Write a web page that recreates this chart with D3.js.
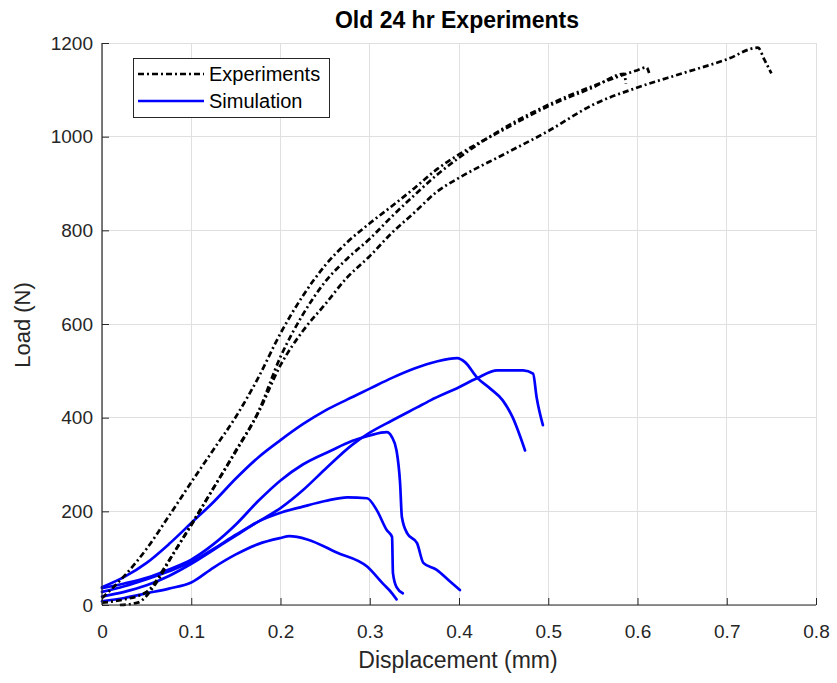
<!DOCTYPE html>
<html><head><meta charset="utf-8">
<script src="https://cdn.jsdelivr.net/npm/d3@7/dist/d3.min.js"></script>
<style>body{margin:0;background:#fff}svg{display:block}text{font-family:"Liberation Sans",Arial,sans-serif}</style>
</head><body><svg id="c" width="837" height="683"></svg>
<script>
const title = "Old 24 hr Experiments";
const xLabel = "Displacement (mm)";
const yLabel = "Load (N)";
const xTicks = [0,0.1,0.2,0.3,0.4,0.5,0.6,0.7,0.8];
const yTicks = [0,200,400,600,800,1000,1200];
const legendLabels = ["Experiments","Simulation"];

// Experiments (black dash-dot)
const expTop = [[0,15],[0.025,62],[0.05,120],[0.075,190],[0.1,262],[0.125,332],[0.15,402],[0.175,485],[0.2,580],[0.225,660],[0.25,725],[0.275,775],[0.3,815],[0.325,852],[0.35,890],[0.375,930],[0.4,962],[0.45,1015],[0.5,1065],[0.55,1105],[0.585,1134],[0.587,1113]];
const expMid = [[0,5],[0.025,12],[0.05,28],[0.075,95],[0.1,172],[0.125,250],[0.15,330],[0.175,412],[0.2,530],[0.225,620],[0.25,690],[0.275,740],[0.3,782],[0.325,830],[0.35,875],[0.375,918],[0.4,955],[0.45,1018],[0.5,1068],[0.55,1108],[0.6,1142],[0.61,1148],[0.613,1136]];
const expBot = [[0.02,0],[0.04,5],[0.06,45],[0.08,110],[0.1,170],[0.125,250],[0.15,328],[0.175,410],[0.2,512],[0.225,585],[0.25,642],[0.275,700],[0.3,745],[0.325,795],[0.35,838],[0.375,882],[0.4,912],[0.45,962],[0.5,1012],[0.55,1068],[0.6,1105],[0.65,1135],[0.7,1165],[0.735,1190],[0.742,1165],[0.75,1135]];
// Simulations (blue solid)
const simA = [[0,38],[0.025,60],[0.05,90],[0.075,130],[0.1,175],[0.125,220],[0.15,270],[0.175,315],[0.2,352],[0.225,386],[0.25,415],[0.275,439],[0.3,462],[0.325,485],[0.35,505],[0.375,520],[0.398,527],[0.407,518],[0.42,486],[0.435,462],[0.449,437],[0.46,401],[0.474,330]];
const simB = [[0,28],[0.025,40],[0.05,55],[0.075,72],[0.1,92],[0.125,120],[0.15,150],[0.175,178],[0.2,207],[0.225,245],[0.25,290],[0.281,343],[0.3,368],[0.325,394],[0.353,422],[0.368,437],[0.4,465],[0.42,484],[0.443,501],[0.472,501],[0.483,494],[0.487,443],[0.494,384]];
const simC = [[0,36],[0.025,46],[0.05,58],[0.075,76],[0.1,97],[0.125,130],[0.15,172],[0.175,222],[0.2,266],[0.225,300],[0.257,330],[0.28,350],[0.3,362],[0.319,369],[0.325,358],[0.33,330],[0.334,260],[0.336,188],[0.342,153],[0.353,132],[0.36,90],[0.375,75],[0.39,50],[0.401,32]];
const simD = [[0,18],[0.025,28],[0.05,42],[0.075,62],[0.1,88],[0.125,118],[0.15,148],[0.175,178],[0.2,197],[0.225,210],[0.25,222],[0.275,230],[0.297,228],[0.308,202],[0.319,160],[0.325,145],[0.326,68],[0.33,38],[0.337,25]];
const simE = [[0,8],[0.025,15],[0.05,25],[0.075,35],[0.1,48],[0.125,80],[0.15,108],[0.175,130],[0.2,143],[0.21,147],[0.23,140],[0.263,112],[0.297,82],[0.315,45],[0.325,25],[0.33,12]];

const experiments = [expTop, expMid, expBot];
const simulations = [simA, simB, simC, simD, simE];

const svg = d3.select("#c");
const L = 102, R = 816, T = 43, B = 605;
const x = d3.scaleLinear().domain([0,0.8]).range([L,R]);
const y = d3.scaleLinear().domain([0,1200]).range([B,T]);
const axisCol = "#262626";
const font = "'Liberation Sans',Arial,sans-serif";

// grid
const g = svg.append("g");
g.selectAll(".gx").data(xTicks).join("line")
  .attr("x1",d=>x(d)).attr("x2",d=>x(d)).attr("y1",T).attr("y2",B)
  .attr("stroke","#e0e0e0").attr("stroke-width",1).attr("shape-rendering","crispEdges");
g.selectAll(".gy").data(yTicks).join("line")
  .attr("y1",d=>y(d)).attr("y2",d=>y(d)).attr("x1",L).attr("x2",R)
  .attr("stroke","#e0e0e0").attr("stroke-width",1).attr("shape-rendering","crispEdges");

// data lines
const line = d3.line().x(d=>x(d[0])).y(d=>y(d[1])).curve(d3.curveMonotoneX);
svg.append("g").selectAll("path").data(simulations).join("path")
  .attr("d",line).attr("fill","none").attr("stroke","#0000ff").attr("stroke-width",2.7)
  .attr("stroke-linejoin","round").attr("stroke-linecap","round");
svg.append("g").selectAll("path").data(experiments).join("path")
  .attr("d",line).attr("fill","none").attr("stroke","#000").attr("stroke-width",2.7)
  .attr("stroke-dasharray","6,3,2,3");

// axes
const xAxis = d3.axisBottom(x).tickValues(xTicks).tickSize(-7).tickPadding(20).tickFormat(d3.format(""));
const yAxis = d3.axisLeft(y).tickValues(yTicks).tickSize(-7).tickPadding(9).tickFormat(d3.format(""));
const xa = svg.append("g").attr("transform",`translate(0,${B})`).call(xAxis);
const ya = svg.append("g").attr("transform",`translate(${L},0)`).call(yAxis);
[xa,ya].forEach(a=>{
  a.select(".domain").attr("stroke",axisCol).attr("stroke-width",1.2);
  a.selectAll(".tick line").attr("stroke",axisCol);
  a.selectAll(".tick text").attr("fill",axisCol).style("font-size","19px").style("font-family",font);
});
xa.select(".domain").attr("d",`M${L},0H${R}`);
ya.select(".domain").attr("d",`M0,${B}V${T}`);

// title & labels
svg.append("text").attr("x",457).attr("y",28).attr("text-anchor","middle")
  .style("font-size","23px").style("font-weight","bold").attr("fill","#000").text(title);
svg.append("text").attr("x",458).attr("y",668).attr("text-anchor","middle")
  .style("font-size","23px").attr("fill",axisCol).text(xLabel);
svg.append("text").attr("transform","translate(30,325) rotate(-90)").attr("text-anchor","middle")
  .style("font-size","22px").attr("fill",axisCol).text(yLabel);

// legend
const lg = svg.append("g");
lg.append("rect").attr("x",133.5).attr("y",58.5).attr("width",196).attr("height",59)
  .attr("fill","#fff").attr("stroke","#262626").attr("stroke-width",1);
const legStyles = [{c:"#000",dash:"6,3,2,3"},{c:"#0000ff",dash:null}];
legendLabels.forEach((t,i)=>{
  const yy = 74 + i*27;
  lg.append("line").attr("x1",138).attr("x2",204).attr("y1",yy).attr("y2",yy)
    .attr("stroke",legStyles[i].c).attr("stroke-width",2.7).attr("stroke-dasharray",legStyles[i].dash);
  lg.append("text").attr("x",209).attr("y",yy+7).style("font-size","20px").attr("fill","#000").text(t);
});
</script></body></html>
